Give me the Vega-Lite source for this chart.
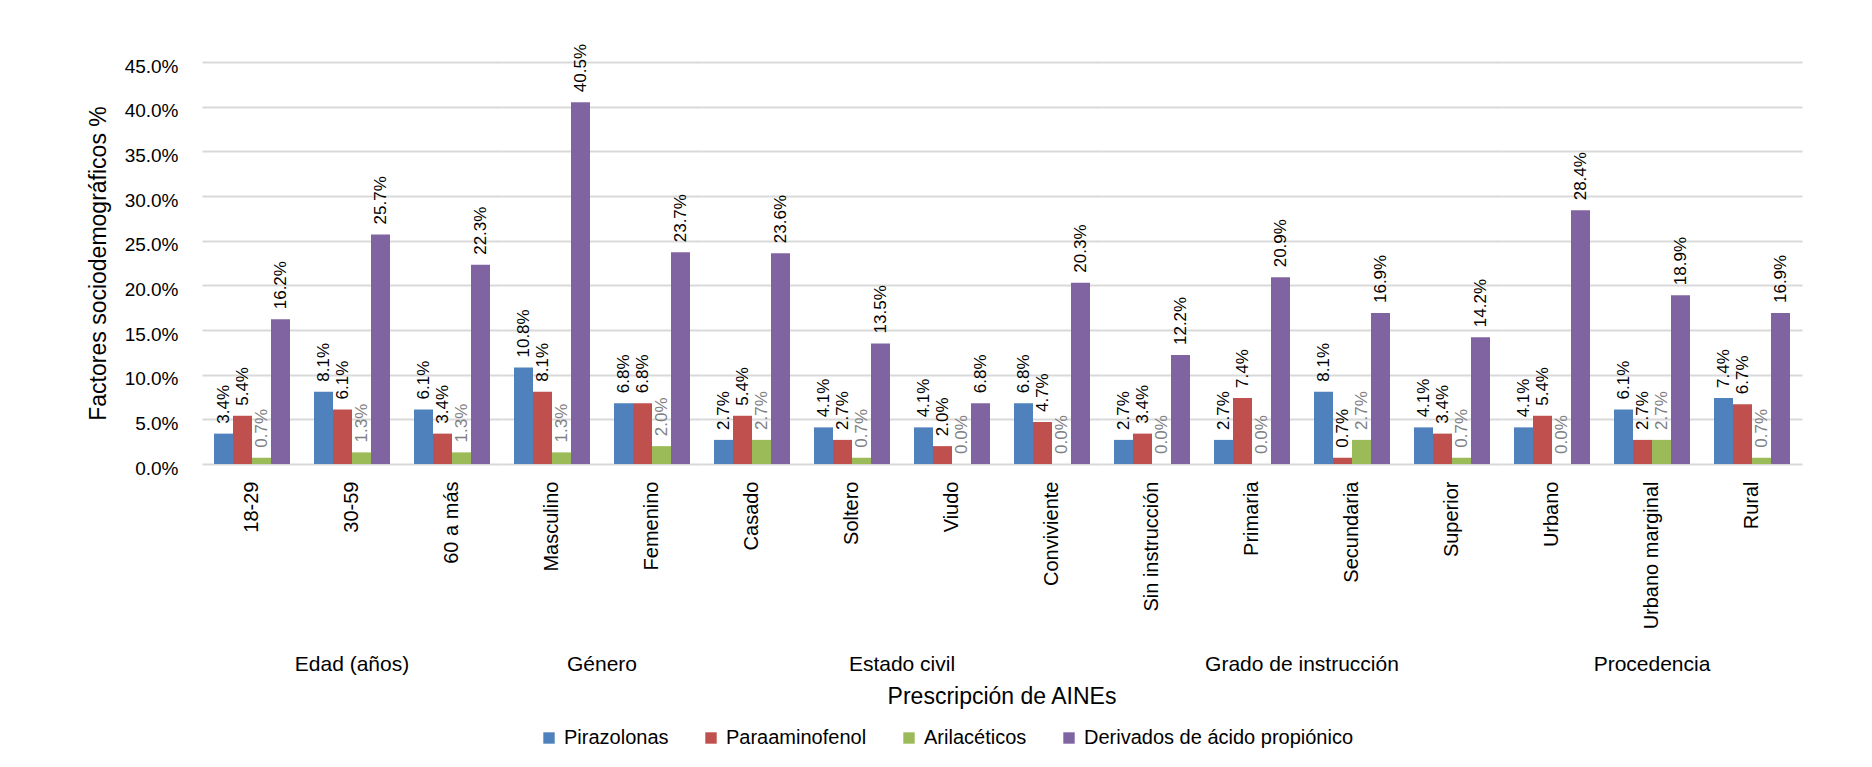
{
  "$schema": "https://vega.github.io/schema/vega-lite/v6.json",
  "padding": {"left": 87, "top": 43, "right": 10, "bottom": 5},
  "background": "white",
  "data": {
    "values": [
      {"grupo": "Edad (años)", "categoria": "18-29", "serie": "Pirazolonas", "valor": 0.034},
      {"grupo": "Edad (años)", "categoria": "18-29", "serie": "Paraaminofenol", "valor": 0.054},
      {"grupo": "Edad (años)", "categoria": "18-29", "serie": "Arilacéticos", "valor": 0.007},
      {"grupo": "Edad (años)", "categoria": "18-29", "serie": "Derivados de ácido propiónico", "valor": 0.162},
      {"grupo": "Edad (años)", "categoria": "30-59", "serie": "Pirazolonas", "valor": 0.081},
      {"grupo": "Edad (años)", "categoria": "30-59", "serie": "Paraaminofenol", "valor": 0.061},
      {"grupo": "Edad (años)", "categoria": "30-59", "serie": "Arilacéticos", "valor": 0.013},
      {"grupo": "Edad (años)", "categoria": "30-59", "serie": "Derivados de ácido propiónico", "valor": 0.257},
      {"grupo": "Edad (años)", "categoria": "60 a más", "serie": "Pirazolonas", "valor": 0.061},
      {"grupo": "Edad (años)", "categoria": "60 a más", "serie": "Paraaminofenol", "valor": 0.034},
      {"grupo": "Edad (años)", "categoria": "60 a más", "serie": "Arilacéticos", "valor": 0.013},
      {"grupo": "Edad (años)", "categoria": "60 a más", "serie": "Derivados de ácido propiónico", "valor": 0.223},
      {"grupo": "Género", "categoria": "Masculino", "serie": "Pirazolonas", "valor": 0.108},
      {"grupo": "Género", "categoria": "Masculino", "serie": "Paraaminofenol", "valor": 0.081},
      {"grupo": "Género", "categoria": "Masculino", "serie": "Arilacéticos", "valor": 0.013},
      {"grupo": "Género", "categoria": "Masculino", "serie": "Derivados de ácido propiónico", "valor": 0.405},
      {"grupo": "Género", "categoria": "Femenino", "serie": "Pirazolonas", "valor": 0.068},
      {"grupo": "Género", "categoria": "Femenino", "serie": "Paraaminofenol", "valor": 0.068},
      {"grupo": "Género", "categoria": "Femenino", "serie": "Arilacéticos", "valor": 0.020},
      {"grupo": "Género", "categoria": "Femenino", "serie": "Derivados de ácido propiónico", "valor": 0.237},
      {"grupo": "Estado civil", "categoria": "Casado", "serie": "Pirazolonas", "valor": 0.027},
      {"grupo": "Estado civil", "categoria": "Casado", "serie": "Paraaminofenol", "valor": 0.054},
      {"grupo": "Estado civil", "categoria": "Casado", "serie": "Arilacéticos", "valor": 0.027},
      {"grupo": "Estado civil", "categoria": "Casado", "serie": "Derivados de ácido propiónico", "valor": 0.236},
      {"grupo": "Estado civil", "categoria": "Soltero", "serie": "Pirazolonas", "valor": 0.041},
      {"grupo": "Estado civil", "categoria": "Soltero", "serie": "Paraaminofenol", "valor": 0.027},
      {"grupo": "Estado civil", "categoria": "Soltero", "serie": "Arilacéticos", "valor": 0.007},
      {"grupo": "Estado civil", "categoria": "Soltero", "serie": "Derivados de ácido propiónico", "valor": 0.135},
      {"grupo": "Estado civil", "categoria": "Viudo", "serie": "Pirazolonas", "valor": 0.041},
      {"grupo": "Estado civil", "categoria": "Viudo", "serie": "Paraaminofenol", "valor": 0.020},
      {"grupo": "Estado civil", "categoria": "Viudo", "serie": "Arilacéticos", "valor": 0.0},
      {"grupo": "Estado civil", "categoria": "Viudo", "serie": "Derivados de ácido propiónico", "valor": 0.068},
      {"grupo": "Estado civil", "categoria": "Conviviente", "serie": "Pirazolonas", "valor": 0.068},
      {"grupo": "Estado civil", "categoria": "Conviviente", "serie": "Paraaminofenol", "valor": 0.047},
      {"grupo": "Estado civil", "categoria": "Conviviente", "serie": "Arilacéticos", "valor": 0.0},
      {"grupo": "Estado civil", "categoria": "Conviviente", "serie": "Derivados de ácido propiónico", "valor": 0.203},
      {"grupo": "Grado de instrucción", "categoria": "Sin instrucción", "serie": "Pirazolonas", "valor": 0.027},
      {"grupo": "Grado de instrucción", "categoria": "Sin instrucción", "serie": "Paraaminofenol", "valor": 0.034},
      {"grupo": "Grado de instrucción", "categoria": "Sin instrucción", "serie": "Arilacéticos", "valor": 0.0},
      {"grupo": "Grado de instrucción", "categoria": "Sin instrucción", "serie": "Derivados de ácido propiónico", "valor": 0.122},
      {"grupo": "Grado de instrucción", "categoria": "Primaria", "serie": "Pirazolonas", "valor": 0.027},
      {"grupo": "Grado de instrucción", "categoria": "Primaria", "serie": "Paraaminofenol", "valor": 0.074},
      {"grupo": "Grado de instrucción", "categoria": "Primaria", "serie": "Arilacéticos", "valor": 0.0},
      {"grupo": "Grado de instrucción", "categoria": "Primaria", "serie": "Derivados de ácido propiónico", "valor": 0.209},
      {"grupo": "Grado de instrucción", "categoria": "Secundaria", "serie": "Pirazolonas", "valor": 0.081},
      {"grupo": "Grado de instrucción", "categoria": "Secundaria", "serie": "Paraaminofenol", "valor": 0.007},
      {"grupo": "Grado de instrucción", "categoria": "Secundaria", "serie": "Arilacéticos", "valor": 0.027},
      {"grupo": "Grado de instrucción", "categoria": "Secundaria", "serie": "Derivados de ácido propiónico", "valor": 0.169},
      {"grupo": "Grado de instrucción", "categoria": "Superior", "serie": "Pirazolonas", "valor": 0.041},
      {"grupo": "Grado de instrucción", "categoria": "Superior", "serie": "Paraaminofenol", "valor": 0.034},
      {"grupo": "Grado de instrucción", "categoria": "Superior", "serie": "Arilacéticos", "valor": 0.007},
      {"grupo": "Grado de instrucción", "categoria": "Superior", "serie": "Derivados de ácido propiónico", "valor": 0.142},
      {"grupo": "Procedencia", "categoria": "Urbano", "serie": "Pirazolonas", "valor": 0.041},
      {"grupo": "Procedencia", "categoria": "Urbano", "serie": "Paraaminofenol", "valor": 0.054},
      {"grupo": "Procedencia", "categoria": "Urbano", "serie": "Arilacéticos", "valor": 0.0},
      {"grupo": "Procedencia", "categoria": "Urbano", "serie": "Derivados de ácido propiónico", "valor": 0.284},
      {"grupo": "Procedencia", "categoria": "Urbano marginal", "serie": "Pirazolonas", "valor": 0.061},
      {"grupo": "Procedencia", "categoria": "Urbano marginal", "serie": "Paraaminofenol", "valor": 0.027},
      {"grupo": "Procedencia", "categoria": "Urbano marginal", "serie": "Arilacéticos", "valor": 0.027},
      {"grupo": "Procedencia", "categoria": "Urbano marginal", "serie": "Derivados de ácido propiónico", "valor": 0.189},
      {"grupo": "Procedencia", "categoria": "Rural", "serie": "Pirazolonas", "valor": 0.074},
      {"grupo": "Procedencia", "categoria": "Rural", "serie": "Paraaminofenol", "valor": 0.067},
      {"grupo": "Procedencia", "categoria": "Rural", "serie": "Arilacéticos", "valor": 0.007},
      {"grupo": "Procedencia", "categoria": "Rural", "serie": "Derivados de ácido propiónico", "valor": 0.169}
    ]
  },
  "facet": {
    "column": {
      "field": "grupo",
      "type": "nominal",
      "sort": ["Edad (años)", "Género", "Estado civil", "Grado de instrucción", "Procedencia"],
      "header": {
        "title": "Prescripción de AINEs",
        "titleOrient": "bottom",
        "labelOrient": "bottom",
        "labelFont": "Liberation Sans",
        "labelFontSize": 21,
        "labelColor": "#000000",
        "labelPadding": 25,
        "titleFont": "Liberation Sans",
        "titleFontSize": 23,
        "titleFontWeight": "normal",
        "titleColor": "#000000",
        "titlePadding": 1
      }
    }
  },
  "spacing": 0,
  "resolve": {"scale": {"x": "independent"}},
  "spec": {
    "width": {"step": 19},
    "height": 402,
    "encoding": {
      "x": {
        "field": "categoria",
        "type": "nominal",
        "sort": ["18-29", "30-59", "60 a más", "Masculino", "Femenino", "Casado", "Soltero", "Viudo", "Conviviente", "Sin instrucción", "Primaria", "Secundaria", "Superior", "Urbano", "Urbano marginal", "Rural"],
        "scale": {"paddingInner": 0.24, "paddingOuter": 0.12},
        "axis": {
          "title": null,
          "domain": false,
          "ticks": false,
          "labelAngle": -90,
          "labelFont": "Liberation Sans",
          "labelFontSize": 20,
          "labelColor": "#000000",
          "labelPadding": 17
        }
      },
      "xOffset": {
        "field": "serie",
        "type": "nominal",
        "sort": ["Pirazolonas", "Paraaminofenol", "Arilacéticos", "Derivados de ácido propiónico"]
      },
      "y": {
        "field": "valor",
        "type": "quantitative",
        "scale": {"domain": [0, 0.45], "nice": false},
        "axis": {
          "title": "Factores sociodemográficos %",
          "titleFont": "Liberation Sans",
          "titleFontSize": 23,
          "titleFontWeight": "normal",
          "titleColor": "#000000",
          "titlePadding": 14,
          "format": ".1%",
          "values": [0, 0.05, 0.1, 0.15, 0.2, 0.25, 0.3, 0.35, 0.4, 0.45],
          "domain": false,
          "ticks": false,
          "labelFont": "Liberation Sans",
          "labelFontSize": 19,
          "labelColor": "#000000",
          "labelPadding": 24,
          "labelOffset": 4,
          "grid": true,
          "gridColor": "#d9d9d9",
          "gridWidth": 2
        }
      }
    },
    "layer": [
      {
        "mark": {"type": "bar"},
        "encoding": {
          "color": {
            "field": "serie",
            "type": "nominal",
            "sort": ["Pirazolonas", "Paraaminofenol", "Arilacéticos", "Derivados de ácido propiónico"],
            "scale": {
              "domain": ["Pirazolonas", "Paraaminofenol", "Arilacéticos", "Derivados de ácido propiónico"],
              "range": ["#4F81BD", "#C0504D", "#9BBB59", "#8064A2"]
            },
            "legend": {
              "title": null,
              "orient": "none",
              "legendX": 337,
              "legendY": 666,
              "direction": "horizontal",
              "symbolType": "square",
              "symbolSize": 130,
              "symbolStrokeWidth": 0,
              "labelFont": "Liberation Sans",
              "labelFontSize": 20,
              "labelColor": "#000000",
              "labelOffset": 5,
              "labelLimit": 0,
              "columnPadding": 32
            }
          }
        }
      },
      {
        "mark": {"type": "text", "angle": 270, "align": "left", "baseline": "middle", "dx": 10, "font": "Liberation Sans", "fontSize": 17},
        "encoding": {
          "text": {"field": "valor", "type": "quantitative", "format": ".1%"},
          "color": {
            "condition": {"test": "datum.serie === 'Arilacéticos'", "value": "#7f7f7f"},
            "value": "#000000"
          }
        }
      }
    ]
  },
  "config": {
    "view": {"stroke": null}
  }
}
